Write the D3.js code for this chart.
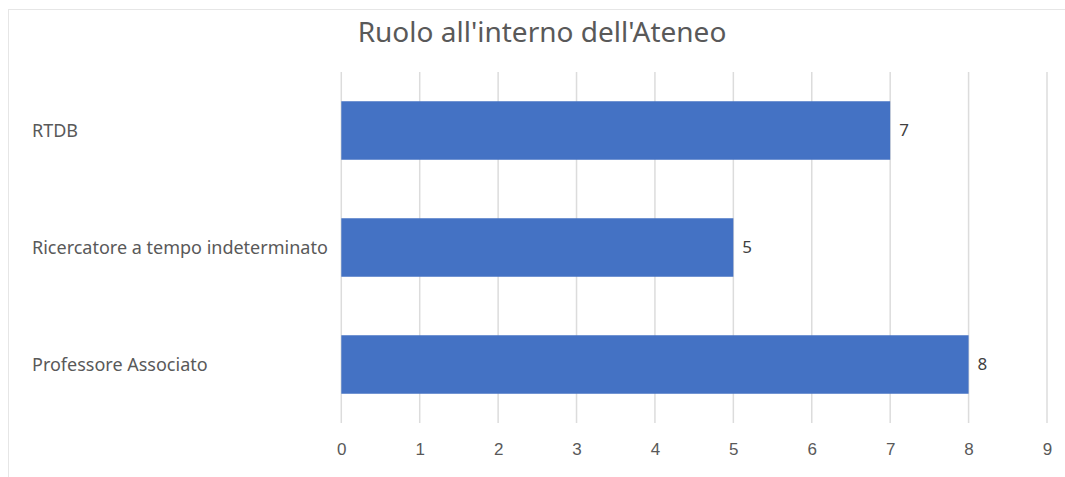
<!DOCTYPE html>
<html>
<head>
<meta charset="utf-8">
<script src="https://cdn.jsdelivr.net/npm/d3@7"></script>
<style>
  body { margin: 0; background: #fff; }
  svg { display: block; font-family: "Noto Sans", "Open Sans", sans-serif; }
</style>
</head>
<body>
<svg width="1065" height="477"></svg>
<script>
var categories = ["RTDB", "Ricercatore a tempo indeterminato", "Professore Associato"];
var values = [7, 5, 8];
var ticks = [0, 1, 2, 3, 4, 5, 6, 7, 8, 9];
var title = "Ruolo all'interno dell'Ateneo";

var svg = d3.select("svg");
var plotLeft = 341.3, plotRight = 1047, plotTop = 72, plotBottom = 423;

// chart frame (cut off at right and bottom)
svg.append("rect")
    .attr("x", 8.5).attr("y", 9.5)
    .attr("width", 1070).attr("height", 480)
    .attr("fill", "none")
    .attr("stroke", "#e6e6e6");

var xScale = d3.scaleLinear().domain([0, 9]).range([plotLeft, plotRight]);
var yScale = d3.scaleBand().domain(categories).range([plotTop, plotBottom])
    .paddingInner(0.5).paddingOuter(0.25);

// gridlines
svg.append("g").selectAll("line")
    .data(ticks)
    .enter().append("line")
    .attr("x1", function (d) { return xScale(d); })
    .attr("x2", function (d) { return xScale(d); })
    .attr("y1", plotTop).attr("y2", plotBottom)
    .attr("stroke", "#dcdcdc")
    .attr("stroke-width", 1.5);

var xaxis = svg.append("g")
    .attr("transform", "translate(0," + plotBottom + ")")
    .call(d3.axisBottom(xScale).tickValues(ticks).tickSize(0).tickPadding(20));
xaxis.select(".domain").remove();
xaxis.selectAll("text")
    .attr("fill", "#595959")
    .style("font-family", "inherit")
    .style("font-size", "17px");

// bars
svg.append("g").selectAll("rect")
    .data(categories)
    .enter().append("rect")
    .attr("x", xScale(0))
    .attr("y", function (d) { return yScale(d); })
    .attr("width", function (d, i) { return xScale(values[i]) - xScale(0); })
    .attr("height", yScale.bandwidth())
    .attr("fill", "#4472c4");

// data labels
svg.append("g").selectAll("text")
    .data(categories)
    .enter().append("text")
    .attr("x", function (d, i) { return xScale(values[i]) + 9; })
    .attr("y", function (d) { return yScale(d) + yScale.bandwidth() / 2; })
    .attr("dy", "0.35em")
    .attr("fill", "#404040")
    .style("font-size", "17px")
    .text(function (d, i) { return values[i]; });

// category labels
svg.append("g").selectAll("text")
    .data(categories)
    .enter().append("text")
    .attr("x", 32)
    .attr("y", function (d) { return yScale(d) + yScale.bandwidth() / 2; })
    .attr("dy", "0.35em")
    .attr("fill", "#595959")
    .style("font-size", "18px")
    .text(function (d) { return d; });

svg.append("text")
    .attr("x", 542)
    .attr("y", 42)
    .attr("text-anchor", "middle")
    .attr("fill", "#595959")
    .style("font-size", "28px")
    .text(title);
</script>
</body>
</html>
